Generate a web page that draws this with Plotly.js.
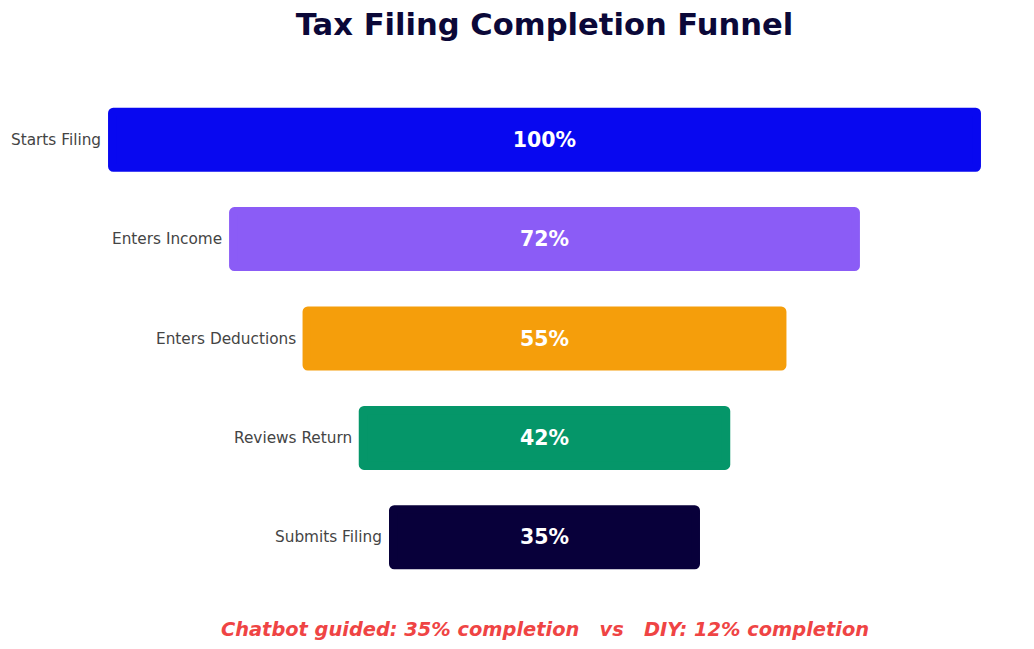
<!DOCTYPE html>
<html>
<head>
<meta charset="utf-8">
<script src="https://cdn.plot.ly/plotly-3.0.1.min.js"></script>
<style>
  html, body { margin: 0; padding: 0; background: #fff; }
  #chart { width: 1034px; height: 649px; }
</style>
</head>
<body>
<div id="chart"></div>
<script>
// funnel stages, top to bottom
var stages = ['Starts Filing', 'Enters Income', 'Enters Deductions', 'Reviews Return', 'Submits Filing'];
var shares = [100, 72, 55, 42, 35];
var stageColors = ['#0808f0', '#8b5cf6', '#f59e0b', '#059669', '#08003a'];
var footnote = 'Chatbot guided: 35% completion\u00a0\u00a0\u00a0vs\u00a0\u00a0\u00a0DIY: 12% completion';

var font = 'DejaVu Sans, sans-serif';

// centre each bar on zero; a thick same-colour outline pads every bar a little
var bars = {
    type: 'bar',
    orientation: 'h',
    y: stages,
    x: shares,
    base: shares.map(function (v) { return -v / 2 }),
    text: shares.map(function (v) { return v + '%' }),
    textposition: 'inside',
    insidetextanchor: 'middle',
    textangle: 0,
    constraintext: 'none',
    cliponaxis: false,
    textfont: { family: font, size: 20.5, color: '#ffffff', weight: 'bold' },
    marker: {
        color: stageColors,
        cornerradius: 1,
        line: { color: stageColors, width: 8.4 }
    },
    hoverinfo: 'skip'
};

// stage names sit just left of each bar
var labels = stages.map(function (s, i) {
    return {
        x: -shares[i] / 2, y: s, xref: 'x', yref: 'y',
        text: s, showarrow: false, xanchor: 'right', xshift: -9,
        font: { family: font, size: 15.3, color: '#444444' }
    }
});

labels.push({
    x: 0.5, y: -(629 - 587) / 497, xref: 'paper', yref: 'paper',
    yanchor: 'middle',
    text: '<b><i>' + footnote + '</i></b>', showarrow: false,
    font: { family: font, size: 19.4, color: '#ef4444' }
});

var layout = {
    width: 1034,
    height: 649,
    margin: { l: 108, r: 53, t: 90, b: 62 },
    paper_bgcolor: '#ffffff',
    plot_bgcolor: '#ffffff',
    title: {
        text: '<b>Tax Filing Completion Funnel</b>',
        x: 0.5, xref: 'paper', y: 0.963, yanchor: 'middle',
        font: { family: font, size: 30.6, color: '#0b0838' }
    },
    bargap: 0.441,
    showlegend: false,
    xaxis: { range: [-50.49, 50.49], visible: false, fixedrange: true },
    yaxis: { autorange: 'reversed', visible: false, fixedrange: true },
    annotations: labels
};

Plotly.newPlot('chart', [bars], layout, { displayModeBar: false, staticPlot: true });
</script>
</body>
</html>
